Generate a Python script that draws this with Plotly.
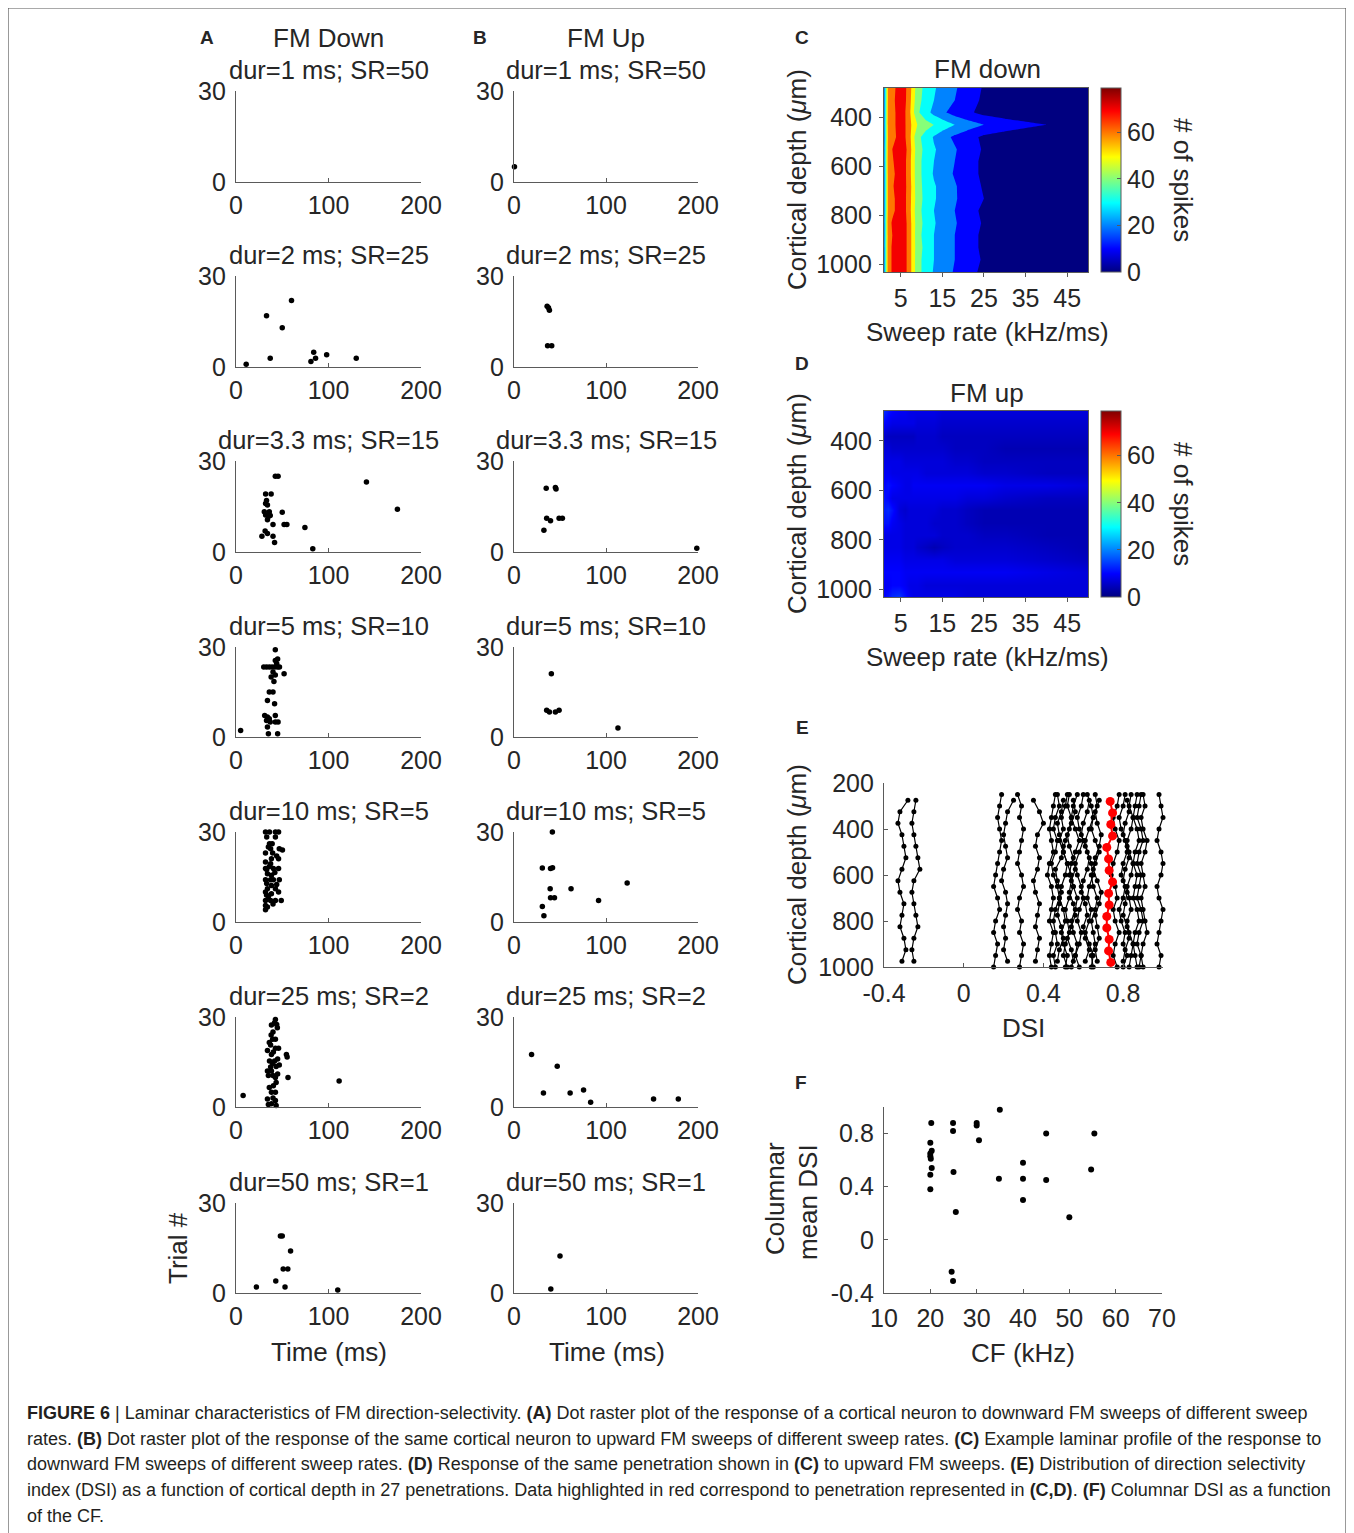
import plotly.graph_objects as go

# reference canvas is 1354 x 1533; the page body adds an 8 px margin, so the figure is drawn 8 px smaller
PAGE_W, PAGE_H, OFF = 1354, 1533, 8
FW, FH = PAGE_W - OFF, PAGE_H - OFF
FONT = "Liberation Sans, Arial, Helvetica, sans-serif"
TXT = "#262626"
AX = "#5a5a5a"

# ---------------- data ----------------
CONDITIONS = ["dur=1 ms; SR=50", "dur=2 ms; SR=25", "dur=3.3 ms; SR=15", "dur=5 ms; SR=10",
              "dur=10 ms; SR=5", "dur=25 ms; SR=2", "dur=50 ms; SR=1"]

# (time ms, trial #) per condition, FM down
DOWN_SPIKES = [
    [],
    [(11, 0.9), (33, 16.9), (37, 2.9), (50, 12.9), (60, 21.9), (81, 1.8), (84, 4.9), (86, 2.9), (98, 4), (130, 2.9)],
    [(42.5, 25), (45.5, 25), (32, 19.1), (38, 19.1), (32, 16), (34, 15.5), (30.6, 13.3), (36, 13.3), (32, 12.2),
     (35, 11.7), (34, 10.6), (50, 13.1), (40, 9.1), (52, 9.1), (55, 9.1), (74.5, 8.1), (28, 5.2), (31.5, 6.9),
     (34, 6.1), (40, 5.2), (41.7, 3.1), (83, 1.1), (141, 23.1), (174.5, 14.1), (33, 17), (37, 12)],
    [(42.5, 29.1), (42.5, 25.5), (45, 26), (30, 23.3), (33, 23.3), (36, 23.3), (39, 23.3), (42, 23.3), (45, 23.3),
     (47, 23.3), (40, 21.7), (42.5, 20.7), (38, 20), (52, 21.1), (36, 15), (40, 15), (34, 12.2), (41.7, 11.1),
     (31, 7.2), (34, 6.7), (36, 6.1), (42.5, 7.2), (37, 5), (42.5, 5), (45.5, 5), (34, 3.3), (35, 1.1), (45, 1.1),
     (5, 2.2), (44, 24.5), (41, 18.5), (33, 5.5)],
    [(31.9, 30), (36.2, 30), (42.6, 30), (46, 30), (33.2, 28.3), (42.6, 28.3), (36.2, 26.1), (39.1, 26.1),
     (37.4, 24.4), (46.8, 24.4), (50.2, 24), (31.9, 23), (39.6, 23), (38.3, 21.1), (46, 21.1), (31.9, 20),
     (37.4, 19.4), (31.9, 17.8), (33.2, 17.5), (40.4, 17.8), (46, 17.8), (34, 16.1), (38.3, 15.6), (31.9, 14.1),
     (37.4, 14.1), (40.4, 14.1), (46.8, 14.1), (33.2, 12.8), (38.3, 12.2), (34, 11.1), (42.6, 11.1), (31.9, 10),
     (46, 10), (38.3, 9.4), (31.9, 7.2), (37.4, 7.2), (42.6, 7.2), (48.9, 7.2), (31.9, 5.5), (34, 5), (31.9, 4.1),
     (35, 25), (44, 22), (36, 18.5), (42, 16.5), (35, 8.5), (40, 6), (44, 12.5), (33, 9)],
    [(42.6, 29.2), (41.7, 28.1), (38.3, 27.3), (44.7, 26.4), (40, 25), (39.6, 22.6), (42.6, 22.6), (37.4, 20.7),
     (46, 19.6), (42.6, 19.6), (38.3, 17.5), (54.5, 17.5), (55.3, 16.7), (36.2, 15.3), (41.7, 15.3), (34, 12),
     (38.3, 12), (42.6, 9.8), (56.2, 9.8), (43.4, 8.2), (40.4, 7.1), (38.3, 4.9), (42.6, 4.9), (34, 2.7),
     (42.6, 2.2), (38.3, 1.1), (43.4, 0.5), (7.7, 3.8), (111.5, 8.7), (34, 18.8), (40.4, 18.3), (39.6, 14.5),
     (37.4, 13.3), (43.4, 13.5), (46.8, 14.0), (35, 10.5), (45, 11), (36, 6.5), (40, 3), (35, 0.8), (38, 24),
     (44, 27.5), (36, 21.5), (40, 10.5), (45, 16)],
    [(22, 2), (43, 4), (48, 19), (50, 19), (59, 14), (51, 8), (56, 8), (53, 2), (110, 1)],
]

# (time ms, trial #) per condition, FM up
UP_SPIKES = [
    [(0.5, 5)],
    [(36, 20), (37.5, 19.5), (38.5, 18.7), (36.5, 7), (41, 7)],
    [(35, 21), (45, 21.3), (45.7, 20.8), (35.5, 11.1), (39.7, 10.3), (49, 11.1), (52.6, 11.1), (32.5, 7.2),
     (198.7, 1.2)],
    [(40.6, 21.1), (35.5, 8.9), (38.5, 8.3), (45, 8.3), (49, 8.9), (113, 3)],
    [(41.7, 30), (30.8, 18), (39.7, 17.8), (41.9, 18.1), (39.3, 11.1), (62, 11.1), (123, 13), (39.7, 8.1),
     (44, 8.1), (91.9, 7.2), (30.8, 5.2), (32.5, 2.1)],
    [(19.1, 17.5), (47, 13.6), (32, 4.7), (61, 4.7), (75.6, 5.7), (83.3, 1.6), (151.7, 2.7), (178.6, 2.7)],
    [(40, 1.3), (50, 12.3)],
]

# laminar profile grids (panels C, D)
SR_GRID = [1, 2, 3, 4.5, 6, 7, 8, 9, 11, 13, 15, 18, 21, 25, 30, 40, 50]
DEPTH_GRID = [280, 330, 380, 430, 480, 530, 580, 630, 680, 730, 780, 830, 880, 930, 980, 1030]
SPIKES_DOWN = [
    [22, 63, 67, 73, 72, 66, 55, 45, 37, 31, 27, 21, 16, 9, 5, 3, 2],
    [22, 63, 68, 73, 72, 65, 54, 44, 36, 30, 26, 20, 15, 8, 5, 3, 2],
    [21, 64, 68, 72, 71, 64, 52, 42, 34, 27, 22, 16, 12, 7, 4, 3, 2],
    [22, 64, 68, 72, 71, 65, 56, 50, 44, 40, 36, 30, 25, 20, 16, 10, 4],
    [21, 63, 67, 72, 71, 65, 53, 43, 36, 29, 24, 18, 14, 8, 5, 3, 2],
    [22, 64, 70, 74, 73, 66, 55, 45, 37, 31, 27, 21, 15, 9, 5, 3, 2],
    [22, 65, 69, 74, 72, 65, 54, 44, 36, 30, 26, 20, 14, 8, 5, 3, 2],
    [22, 64, 68, 73, 72, 65, 54, 44, 36, 29, 25, 19, 14, 8, 5, 3, 2],
    [22, 64, 69, 74, 72, 66, 55, 44, 37, 31, 27, 21, 15, 9, 5, 3, 2],
    [22, 64, 68, 73, 72, 65, 55, 45, 37, 31, 27, 21, 16, 10, 5, 3, 2],
    [22, 64, 68, 73, 72, 65, 54, 44, 36, 30, 26, 20, 14, 8, 5, 3, 2],
    [22, 66, 71, 75, 73, 66, 55, 45, 37, 31, 26, 21, 15, 9, 5, 3, 2],
    [22, 65, 70, 74, 73, 66, 55, 44, 36, 30, 26, 20, 14, 8, 5, 3, 2],
    [22, 66, 71, 75, 73, 66, 55, 45, 37, 30, 26, 20, 14, 8, 5, 3, 2],
    [22, 66, 71, 75, 73, 66, 55, 44, 36, 30, 26, 20, 14, 9, 5, 3, 2],
    [22, 66, 71, 75, 73, 66, 55, 44, 36, 29, 25, 19, 13, 8, 5, 3, 2],
]
SPIKES_UP = [
    [13, 11, 10, 9, 9, 8, 8, 8, 8, 8, 7, 7, 7, 7, 7, 7, 7],
    [10, 9, 8, 8, 8, 8, 8, 7, 7, 7, 6, 6, 6, 6, 6, 6, 6],
    [6, 5, 5, 5, 5, 5, 5, 6, 6, 6, 5, 5, 5, 5, 5, 5, 5],
    [7, 7, 6, 6, 6, 6, 6, 6, 6, 6, 6, 5, 5, 5, 4, 4, 4],
    [8, 8, 8, 8, 7, 7, 7, 7, 7, 7, 7, 6, 6, 5, 5, 5, 5],
    [9, 9, 8, 8, 8, 8, 8, 8, 7, 7, 7, 7, 7, 6, 6, 5, 5],
    [10, 11, 10, 9, 8, 8, 9, 9, 9, 9, 9, 9, 9, 9, 8, 8, 7],
    [11, 10, 8, 8, 8, 8, 8, 8, 8, 8, 8, 8, 7, 7, 6, 5, 5],
    [12, 13, 11, 7, 6, 7, 7, 7, 7, 7, 6, 6, 5, 4, 4, 4, 4],
    [11, 11, 9, 8, 7, 7, 7, 7, 7, 6, 6, 6, 5, 4, 4, 4, 4],
    [8, 8, 8, 8, 7, 7, 7, 7, 7, 7, 6, 6, 6, 5, 5, 4, 4],
    [8, 8, 8, 8, 7, 7, 7, 6, 5, 4, 5, 6, 6, 6, 6, 5, 4],
    [9, 9, 9, 9, 8, 8, 8, 8, 8, 8, 8, 7, 7, 7, 7, 6, 5],
    [10, 10, 10, 10, 9, 9, 9, 9, 9, 9, 9, 9, 9, 9, 9, 8, 7],
    [9, 9, 10, 10, 9, 8, 8, 8, 7, 7, 7, 7, 7, 7, 7, 7, 7],
    [10, 11, 13, 14, 11, 9, 8, 8, 8, 8, 8, 8, 7, 7, 7, 7, 7],
]

# DSI vs depth (panel E)
DEPTH_A = [250, 300, 350, 400, 450, 500, 550, 600, 650, 700, 750, 800, 850, 900, 950, 1000]
DEPTH_B = [275, 325, 375, 425, 475, 525, 575, 625, 675, 725, 775, 825, 875, 925, 975]
DSI_LINES = [
    ("B", [-0.28, -0.32, -0.33, -0.31, -0.30, -0.29, -0.31, -0.33, -0.32, -0.30, -0.31, -0.32, -0.30, -0.29, -0.31]),
    ("B", [-0.24, -0.25, -0.26, -0.25, -0.24, -0.23, -0.22, -0.25, -0.26, -0.25, -0.24, -0.23, -0.25, -0.26, -0.25]),
    ("A", [0.19, 0.18, 0.17, 0.18, 0.19, 0.18, 0.17, 0.16, 0.15, 0.17, 0.18, 0.16, 0.15, 0.17, 0.16, 0.15]),
    ("B", [0.25, 0.22, 0.21, 0.20, 0.21, 0.22, 0.20, 0.19, 0.21, 0.22, 0.21, 0.20, 0.21, 0.20, 0.22]),
    ("A", [0.27, 0.29, 0.28, 0.30, 0.29, 0.28, 0.27, 0.29, 0.30, 0.28, 0.27, 0.29, 0.28, 0.30, 0.29, 0.28]),
    ("B", [0.35, 0.38, 0.40, 0.37, 0.36, 0.38, 0.37, 0.35, 0.36, 0.38, 0.37, 0.36, 0.38, 0.37, 0.36]),
    ("A", [0.46, 0.45, 0.44, 0.43, 0.44, 0.45, 0.43, 0.42, 0.44, 0.45, 0.44, 0.43, 0.45, 0.44, 0.43, 0.44]),
    ("A", [0.47, 0.48, 0.46, 0.45, 0.47, 0.46, 0.44, 0.45, 0.47, 0.48, 0.46, 0.45, 0.46, 0.47, 0.45, 0.46]),
    ("B", [0.50, 0.49, 0.47, 0.48, 0.50, 0.49, 0.46, 0.47, 0.49, 0.48, 0.47, 0.49, 0.50, 0.48, 0.47]),
    ("A", [0.52, 0.51, 0.49, 0.50, 0.48, 0.50, 0.52, 0.51, 0.49, 0.48, 0.50, 0.51, 0.49, 0.50, 0.52, 0.51]),
    ("A", [0.53, 0.52, 0.54, 0.53, 0.51, 0.50, 0.52, 0.54, 0.55, 0.53, 0.51, 0.52, 0.53, 0.51, 0.50, 0.52]),
    ("B", [0.55, 0.56, 0.54, 0.52, 0.53, 0.55, 0.56, 0.54, 0.53, 0.55, 0.56, 0.54, 0.52, 0.54, 0.55]),
    ("A", [0.57, 0.55, 0.54, 0.56, 0.58, 0.56, 0.54, 0.53, 0.55, 0.57, 0.56, 0.54, 0.55, 0.57, 0.56, 0.54]),
    ("A", [0.60, 0.59, 0.57, 0.58, 0.60, 0.58, 0.56, 0.57, 0.59, 0.60, 0.58, 0.57, 0.59, 0.58, 0.56, 0.58]),
    ("B", [0.63, 0.62, 0.60, 0.59, 0.61, 0.63, 0.62, 0.60, 0.59, 0.61, 0.62, 0.60, 0.61, 0.63, 0.61]),
    ("A", [0.62, 0.64, 0.65, 0.63, 0.61, 0.62, 0.64, 0.65, 0.63, 0.62, 0.64, 0.63, 0.61, 0.63, 0.65, 0.64]),
    ("A", [0.66, 0.67, 0.65, 0.64, 0.66, 0.68, 0.66, 0.64, 0.65, 0.67, 0.66, 0.64, 0.65, 0.66, 0.64, 0.65]),
    ("B", [0.68, 0.66, 0.67, 0.69, 0.68, 0.66, 0.65, 0.67, 0.69, 0.68, 0.66, 0.67, 0.68, 0.66, 0.67]),
    ("A", [0.78, 0.77, 0.75, 0.76, 0.78, 0.77, 0.75, 0.74, 0.76, 0.77, 0.75, 0.76, 0.78, 0.76, 0.75, 0.77]),
    ("A", [0.81, 0.80, 0.78, 0.79, 0.81, 0.82, 0.80, 0.79, 0.81, 0.80, 0.78, 0.79, 0.81, 0.80, 0.82, 0.80]),
    ("B", [0.82, 0.83, 0.81, 0.80, 0.82, 0.83, 0.81, 0.80, 0.82, 0.81, 0.80, 0.82, 0.83, 0.81, 0.80]),
    ("A", [0.84, 0.83, 0.85, 0.84, 0.82, 0.83, 0.85, 0.84, 0.82, 0.83, 0.84, 0.82, 0.83, 0.85, 0.84, 0.83]),
    ("A", [0.87, 0.86, 0.85, 0.87, 0.88, 0.86, 0.85, 0.87, 0.86, 0.85, 0.87, 0.88, 0.86, 0.85, 0.86, 0.87]),
    ("A", [0.89, 0.88, 0.87, 0.89, 0.90, 0.88, 0.87, 0.89, 0.88, 0.87, 0.89, 0.90, 0.88, 0.87, 0.89, 0.88]),
    ("A", [0.90, 0.91, 0.89, 0.90, 0.92, 0.91, 0.89, 0.90, 0.91, 0.89, 0.90, 0.91, 0.92, 0.90, 0.89, 0.90]),
    ("A", [0.98, 0.99, 1.00, 0.98, 0.97, 0.99, 1.00, 0.99, 0.97, 0.98, 1.00, 0.99, 0.98, 0.97, 0.99, 0.98]),
]
DEPTH_RED = [280, 330, 380, 430, 480, 530, 580, 630, 680, 730, 780, 830, 880, 930, 980]
DSI_RED = [0.735, 0.747, 0.738, 0.747, 0.718, 0.727, 0.730, 0.747, 0.727, 0.730, 0.718, 0.718, 0.730, 0.727, 0.738]

# columnar DSI vs CF (panel F)
CF_KHZ = [20.2, 20, 20.3, 20, 20, 20.1, 20.3, 20, 20, 24.9, 24.9, 25, 25.5, 24.6, 24.9, 30, 30, 30.5,
          35, 34.8, 40, 40, 40, 45, 45, 50, 54.7, 55.4]
COL_DSI = [0.88, 0.73, 0.67, 0.65, 0.63, 0.61, 0.54, 0.49, 0.38, 0.88, 0.82, 0.51, 0.21, -0.24, -0.31, 0.88,
           0.86, 0.75, 0.98, 0.46, 0.58, 0.46, 0.30, 0.80, 0.45, 0.17, 0.53, 0.80]

CAPTION = [
    "<b>FIGURE 6</b> | Laminar characteristics of FM direction-selectivity. <b>(A)</b> Dot raster plot of the response of a cortical neuron to downward FM sweeps of different sweep",
    "rates. <b>(B)</b> Dot raster plot of the response of the same cortical neuron to upward FM sweeps of different sweep rates. <b>(C)</b> Example laminar profile of the response to",
    "downward FM sweeps of different sweep rates. <b>(D)</b> Response of the same penetration shown in <b>(C)</b> to upward FM sweeps. <b>(E)</b> Distribution of direction selectivity",
    "index (DSI) as a function of cortical depth in 27 penetrations. Data highlighted in red correspond to penetration represented in <b>(C,D)</b>. <b>(F)</b> Columnar DSI as a function",
    "of the CF.",
]


# ---------------- helpers ----------------
def jet(v):
    v = min(max(v, 0.0), 1.0)
    def cl(a):
        return min(max(a, 0.0), 1.0)
    r = cl(min(4 * v - 1.5, -4 * v + 4.5))
    g = cl(min(4 * v - 0.5, -4 * v + 3.5))
    b = cl(min(4 * v + 0.5, -4 * v + 2.5))
    return "rgb(%d,%d,%d)" % (round(r * 255), round(g * 255), round(b * 255))


ZMAX = 79
JET_SCALE = [[p, jet(p)] for p in [0, 0.125, 0.375, 0.625, 0.875, 1.0]]
LEVELS = [0, 10, 20, 30, 40, 50, 60, 70]
BAND_SCALE = [[0.0, jet(0)]] + [[(k + 1) / 8, jet(LEVELS[k] / ZMAX)] for k in range(8)]


def px(x):
    return (x - OFF) / FW


def py(y):
    return 1 - (y - OFF) / FH


fig = go.Figure()
layout = dict(width=FW, height=FH, margin=dict(l=0, r=0, t=0, b=0, pad=0, autoexpand=False),
              paper_bgcolor="white", plot_bgcolor="rgba(0,0,0,0)", showlegend=False,
              font=dict(family=FONT, color=TXT, size=25))
annotations = []
shapes = []

BASE = dict(showline=True, linecolor=AX, linewidth=1.3, ticks="inside", ticklen=4, tickcolor=AX,
            tickwidth=1, showgrid=False, zeroline=False, automargin=False,
            tickfont=dict(size=25, color=TXT, family=FONT))


def add_axes(idx, x0, x1, ytop, ybot, xcfg, ycfg):
    s = "" if idx == 1 else str(idx)
    xc = dict(BASE); xc.update(xcfg)
    yc = dict(BASE); yc.update(ycfg)
    layout["xaxis" + s] = dict(domain=[px(x0), px(x1)], anchor="y" + s, **xc)
    layout["yaxis" + s] = dict(domain=[py(ybot), py(ytop)], anchor="x" + s, **yc)
    return "x" + s, "y" + s


def text(x, y, t, size=26, angle=0, xanchor="center", bold=False, color=TXT):
    annotations.append(dict(x=px(x), y=py(y), xref="paper", yref="paper", text=("<b>%s</b>" % t) if bold else t,
                            showarrow=False, font=dict(size=size, family=FONT, color=color), textangle=angle,
                            xanchor=xanchor, yanchor="middle"))


# ---------------- rasters (A, B) ----------------
ROW_TOP = [91, 276, 461, 647, 832, 1017, 1203]
ROW_BOT = [182, 367, 552, 737, 922, 1107, 1293]
COLS = [(236, 421), (514, 698)]
idx = 1
for r in range(7):
    for c, spikes in enumerate([DOWN_SPIKES[r], UP_SPIKES[r]]):
        x0, x1 = COLS[c]
        xa, ya = add_axes(idx, x0, x1, ROW_TOP[r], ROW_BOT[r],
                          dict(range=[0, 200], tickvals=[0, 100, 200], ticklabelstandoff=1),
                          dict(range=[0, 30], tickvals=[0, 30], ticklabelstandoff=4))
        fig.add_trace(go.Scatter(x=[s[0] for s in spikes], y=[s[1] for s in spikes], mode="markers",
                                 marker=dict(size=5.5, color="black"), cliponaxis=False,
                                 xaxis=xa, yaxis=ya, hoverinfo="skip"))
        text((x0 + x1) / 2, ROW_TOP[r] - 21, CONDITIONS[r], size=25.5)
        idx += 1

text(328, 38, "FM Down")
text(606, 38, "FM Up")
text(207, 37, "A", size=19, bold=True)
text(480, 37, "B", size=19, bold=True)
text(178, 1248, "Trial #", angle=-90)
text(329, 1352, "Time (ms)")
text(607, 1352, "Time (ms)")

# ---------------- C, D heat maps ----------------
heat_x = dict(range=[1, 50], tickvals=[5, 15, 25, 35, 45], ticks="outside", mirror=True, ticklabelstandoff=0)
heat_y = dict(range=[1030, 280], tickvals=[400, 600, 800, 1000], ticks="outside", mirror=True,
              ticklabelstandoff=2)

CB = dict(x=px(1101), xanchor="left", yanchor="middle", lenmode="pixels", thickness=20,
          thicknessmode="pixels", outlinewidth=1, outlinecolor=AX, tickvals=[0, 20, 40, 60],
          ticks="inside", ticklen=4, tickcolor=AX, xpad=0, ypad=0,
          tickfont=dict(size=25, color=TXT, family=FONT))

xa, ya = add_axes(idx, 884, 1088, 88, 272, heat_x, heat_y)
fig.add_trace(go.Contour(x=SR_GRID, y=DEPTH_GRID, z=SPIKES_DOWN, autocontour=False,
                         contours=dict(start=0, end=70, size=10, coloring="fill", showlines=False),
                         line=dict(width=0, smoothing=0), colorscale=BAND_SCALE, showscale=False,
                         xaxis=xa, yaxis=ya, hoverinfo="skip"))
fig.add_trace(go.Scatter(x=[25], y=[600], mode="markers", xaxis=xa, yaxis=ya, hoverinfo="skip",
                         marker=dict(size=1, opacity=0, color=[0], cmin=0, cmax=ZMAX, colorscale=JET_SCALE,
                                     showscale=True, colorbar=dict(CB, y=py(180), len=184))))
text(987, 69, "FM down")
text(802, 37, "C", size=19, bold=True)
text(797, 180, "Cortical depth (<i>μ</i>m)", angle=-90)
text(987, 332, "Sweep rate (kHz/ms)")
text(1183, 180, "# of spikes", angle=90)
idx += 1

xa, ya = add_axes(idx, 884, 1088, 411, 597, heat_x, heat_y)
fig.add_trace(go.Heatmap(x=SR_GRID, y=DEPTH_GRID, z=SPIKES_UP, zsmooth="best", zmin=0, zmax=ZMAX,
                         colorscale=JET_SCALE, xaxis=xa, yaxis=ya, hoverinfo="skip",
                         colorbar=dict(CB, y=py(504), len=186)))
text(987, 393, "FM up")
text(802, 364, "D", size=19, bold=True)
text(797, 504, "Cortical depth (<i>μ</i>m)", angle=-90)
text(987, 657, "Sweep rate (kHz/ms)")
text(1183, 504, "# of spikes", angle=90)
idx += 1

# ---------------- E ----------------
xa, ya = add_axes(idx, 884, 1163, 783, 967,
                  dict(range=[-0.4, 1.0], tickvals=[-0.4, 0, 0.4, 0.8], ticktext=["-0.4", "0", "0.4", "0.8"],
                       ticklabelstandoff=4),
                  dict(range=[1000, 200], tickvals=[200, 400, 600, 800, 1000], ticklabelstandoff=4))
DEPTHS = {"A": DEPTH_A, "B": DEPTH_B}
for key, vals in DSI_LINES:
    fig.add_trace(go.Scatter(x=vals, y=DEPTHS[key][:len(vals)], mode="lines+markers",
                             line=dict(color="black", width=1.2), marker=dict(size=5, color="black"),
                             cliponaxis=False, xaxis=xa, yaxis=ya, hoverinfo="skip"))
fig.add_trace(go.Scatter(x=DSI_RED, y=DEPTH_RED, mode="lines+markers", line=dict(color="#ff0000", width=2),
                         marker=dict(size=9, color="#ff0000"), cliponaxis=False, xaxis=xa, yaxis=ya,
                         hoverinfo="skip"))
text(802, 727, "E", size=19, bold=True)
text(797, 875, "Cortical depth (<i>μ</i>m)", angle=-90)
text(1023, 1028, "DSI")
idx += 1

# ---------------- F ----------------
xa, ya = add_axes(idx, 884, 1162, 1107, 1293,
                  dict(range=[10, 70], tickvals=[10, 20, 30, 40, 50, 60, 70], ticklabelstandoff=3),
                  dict(range=[-0.4, 1.0], tickvals=[-0.4, 0, 0.4, 0.8], ticktext=["-0.4", "0", "0.4", "0.8"],
                       ticklabelstandoff=4))
fig.add_trace(go.Scatter(x=CF_KHZ, y=COL_DSI, mode="markers", marker=dict(size=6, color="black"),
                         cliponaxis=False, xaxis=xa, yaxis=ya, hoverinfo="skip"))
text(801, 1082, "F", size=19, bold=True)
text(775, 1199, "Columnar", angle=-90)
text(808, 1202, "mean DSI", angle=-90)
text(1023, 1353, "CF (kHz)")

# ---------------- caption & frame ----------------
for i, line in enumerate(CAPTION):
    text(25, 1413 + 25.7 * i, line, size=18.0, xanchor="left", color="#231f20")

for (x0, y0, x1, y1) in [(8, 8, 1346, 8), (8, 8, 8, 1533), (1346, 8, 1346, 1533)]:
    shapes.append(dict(type="line", xref="paper", yref="paper", x0=px(x0), y0=py(y0), x1=px(x1), y1=py(y1),
                       line=dict(color="#555555", width=1.2)))

layout["annotations"] = annotations
layout["shapes"] = shapes
fig.update_layout(**layout)
fig.write_html("out.html")
